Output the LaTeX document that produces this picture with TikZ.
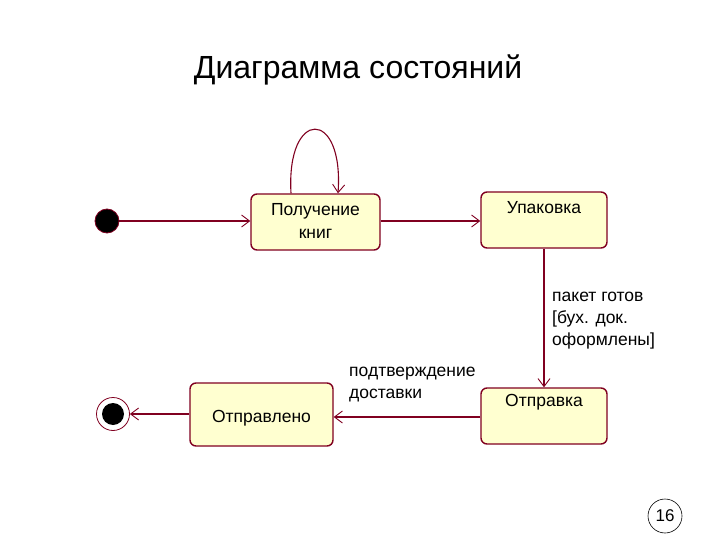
\documentclass[tikz,border=0pt]{standalone}
\usepackage{fontspec}
\setmainfont{Liberation Sans}
\usetikzlibrary{arrows.meta}
\definecolor{edgec}{RGB}{128,0,32}
\definecolor{fillc}{RGB}{255,255,208}
\begin{document}
\begin{tikzpicture}[x=1pt,y=-1pt,
  state/.style={draw=edgec, line width=1.4pt, fill=fillc, rounded corners=6pt, inner sep=0pt},
  conn/.style={draw=edgec, line width=1.1pt, -{Straight Barb[length=8pt,width=12pt,line width=0.9pt]}},
  lbl/.style={font=\fontsize{17.5}{22}\selectfont, align=left, anchor=north west, inner sep=0pt},
  txt/.style={font=\fontsize{17.5}{23}\selectfont, inner sep=0pt}]
\useasboundingbox (0,0) rectangle (720,540);
\node[font=\fontsize{32}{36}\selectfont] (title) at (358,70) {Диаграмма состояний};
% states
\node[state, minimum width=129pt, minimum height=56pt] (recv) at (315.5,222) {};
\node[txt, align=center] at (315.5,221) {Получение\\книг};
\node[state, minimum width=126pt, minimum height=56pt] (pack) at (544,220) {};
\node[txt] at (544,208) {Упаковка};
\node[state, minimum width=126pt, minimum height=56pt] (send) at (544,416) {};
\node[txt] at (544,402) {Отправка};
\node[state, minimum width=143pt, minimum height=63pt] (sent) at (261.5,414.5) {};
\node[txt] at (261.5,418) {Отправлено};
% initial and final
\node[circle, fill=black, draw=edgec, line width=0.8pt, minimum size=24pt, inner sep=0pt] (init) at (107,221) {};
\node[circle, draw=edgec, line width=0.8pt, minimum size=33pt, inner sep=0pt] (final) at (113,414) {};
\node[circle, fill=black, minimum size=22pt, inner sep=0pt] (finalin) at (113,414) {};
% connectors
\draw[conn] (init) -- (recv.west |- init);
\draw[conn] (recv.east |- 0,221) -- (pack.west |- 0,221);
\draw[conn] ([xshift=-24.5pt]recv.north) .. controls (286,108) and (344,108) .. ([xshift=22.5pt]recv.north);
\draw[conn] (pack.south) -- (send.north);
\draw[conn] (send.west |- 0,417) -- (sent.east |- 0,417);
\draw[conn] (sent.west |- 0,414) -- (final.east);
% labels
\node[lbl] (l1) at (552,292) {пакет готов\\{[}бух. док.\\оформлены]};
\node[lbl] (l2) at (349,367) {подтверждение\\доставки};
% page number
\node[circle, draw=black, line width=0.6pt, minimum size=34pt, inner sep=0pt, font=\fontsize{17}{20}\selectfont] (pg) at (665,516) {16};
\end{tikzpicture}
\end{document}
